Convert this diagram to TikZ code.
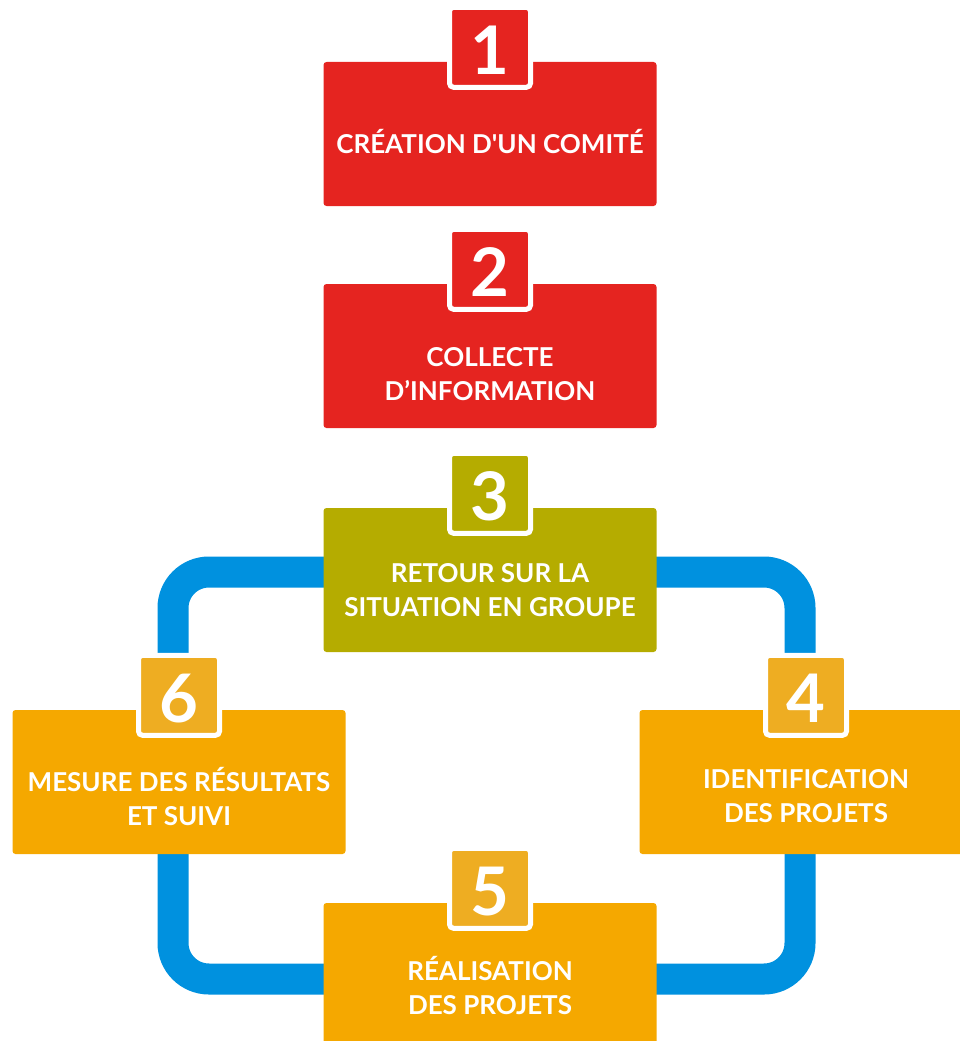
\documentclass[tikz,border=0pt]{standalone}
\usepackage{fontspec}
\setmainfont{Lato}
\usetikzlibrary{positioning}
\definecolor{stepred}{HTML}{E52420}
\definecolor{stepolive}{HTML}{B5AC00}
\definecolor{steporange}{HTML}{F5A800}
\definecolor{badgeorange}{HTML}{EEAD22}
\definecolor{ringblue}{HTML}{0091DF}

\begin{document}
\begin{tikzpicture}[x=1pt,y=-1pt,
  stepbox/.style={fill=#1,rounded corners=3pt,minimum width=333pt,minimum height=144pt,inner sep=0pt},
  badge/.style={fill=#1,draw=white,line width=5pt,rounded corners=4pt,minimum width=81pt,minimum height=80pt,
    inner sep=0pt,text=white,text height=54pt,text depth=0pt,font=\fontsize{67}{67}\selectfont\bfseries},
  steptext/.style={text=white,align=center,inner sep=0pt,font=\fontsize{26}{34}\selectfont\bfseries}]
  \useasboundingbox (0,0) rectangle (959,1041);
  % loop behind steps 3 to 6
  \draw[ringblue,line width=31pt,rounded corners=36pt] (173,572) rectangle (800,979);
  % boxes
  \path (490,134) node[stepbox=stepred] (b1) {}
  (490,356) node[stepbox=stepred] (b2) {}
  (490,580) node[stepbox=stepolive] (b3) {}
  (806,782) node[stepbox=steporange] (b4) {}
  (179,782) node[stepbox=steporange] (b6) {}
  (490,975) node[stepbox=steporange] (b5) {};
  % badges
  \node[badge=stepred] (n1) at ([yshift=14.5pt]b1.north) {1};
  \node[badge=stepred] (n2) at ([yshift=14.5pt]b2.north) {2};
  \node[badge=stepolive] (n3) at ([yshift=14.5pt]b3.north) {3};
  \node[badge=badgeorange] (n4) at ([yshift=14.5pt]b4.north) {4};
  \node[badge=badgeorange] (n6) at ([yshift=14.5pt]b6.north) {6};
  \node[badge=badgeorange] (n5) at ([yshift=14.5pt]b5.north) {5};
  % texts
  \node[steptext] (t1) at ([yshift=-8pt]b1.center) {CRÉATION D\textquotesingle UN COMITÉ};
  \node[steptext] (t2) at ([yshift=-18pt]b2.center) {COLLECTE\\D’INFORMATION};
  \node[steptext] (t3) at ([yshift=-10pt]b3.center) {RETOUR SUR LA\\SITUATION EN GROUPE};
  \node[steptext] (t4) at ([yshift=-14pt]b4.center) {IDENTIFICATION\\DES PROJETS};
  \node[steptext] (t6) at ([yshift=-14pt]b6.center) {MESURE DES RÉSULTATS\\ET SUIVI};
  \node[steptext] (t5) at ([yshift=-10pt]b5.center) {RÉALISATION\\DES PROJETS};
\end{tikzpicture}
\end{document}
